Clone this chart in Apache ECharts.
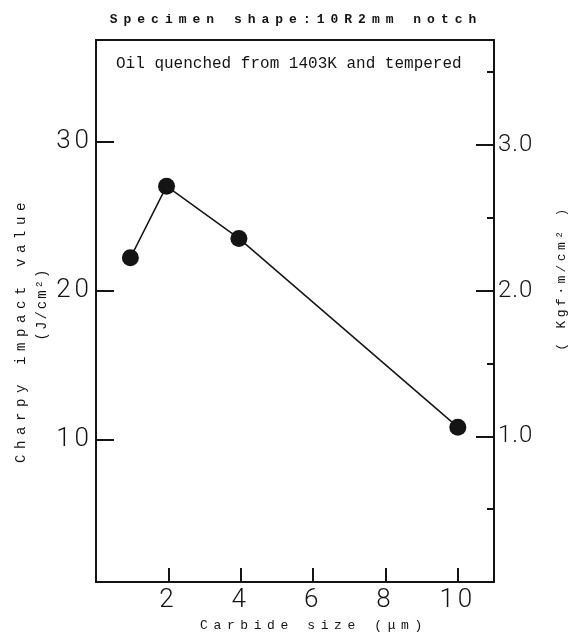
<!DOCTYPE html>
<html>
<head>
<meta charset="utf-8">
<script src="https://cdn.jsdelivr.net/npm/echarts@6/dist/echarts.min.js"></script>
<style>
html,body{margin:0;padding:0;background:#fff;}
#chart{width:575px;height:635px;}
</style>
</head>
<body>
<div id="chart"></div>
<script>
// ---- data ----
const carbideSize = [0.95, 1.95, 3.95, 10.0];          // µm
const impactValue = [22.2, 27.0, 23.5, 10.85];         // J/cm²
const xTickValues = [2, 4, 6, 8, 10];
const leftTickValues = [10, 20, 30];
const rightTickValues = [1.0, 2.0, 3.0];
const titleText = 'Specimen shape:10R2mm notch';
const subtitleText = 'Oil quenched from 1403K and tempered';
const xAxisName = 'Carbide size (μm)';
const leftAxisName1 = 'Charpy impact value';
const leftAxisName2 = '(J/cm²)';
const rightAxisName = '( Kgf·m/cm² )';

// letter spacing support for spaced typewriter text (marker family "zlsN")
(function () {
  const P = CanvasRenderingContext2D.prototype;
  const ft = P.fillText, st = P.strokeText;
  function ls(ctx) {
    const m = /zls(\d+)(?:p(\d+))?/.exec(ctx.font || '');
    const v = m ? (m[1] + (m[2] ? '.' + m[2] : '')) : '0';
    try { if ('letterSpacing' in ctx) ctx.letterSpacing = v + 'px'; } catch (e) {}
  }
  P.fillText = function (t, x, y, w) { ls(this); return w === undefined ? ft.call(this, t, x, y) : ft.call(this, t, x, y, w); };
  P.strokeText = function (t, x, y, w) { ls(this); return w === undefined ? st.call(this, t, x, y) : st.call(this, t, x, y, w); };
})();

const INK = '#141414';
const chart = echarts.init(document.getElementById('chart'), null, { renderer: 'canvas' });

const option = {
  backgroundColor: '#ffffff',
  animation: false,
  grid: { left: 96, top: 40, width: 398, height: 542, show: true, borderColor: INK, borderWidth: 2, backgroundColor: 'transparent' },
  xAxis: {
    type: 'value', min: 0, max: 11, interval: 2,
    axisLine: { show: true, lineStyle: { color: INK, width: 2 } },
    axisTick: { show: true, inside: true, length: 14, lineStyle: { color: INK, width: 2 } },
    axisLabel: {
      show: true, margin: 5, color: INK, fontSize: 26, fontWeight: 300, fontFamily: 'Roboto, zls4',
      formatter: function (v) { return xTickValues.indexOf(v) >= 0 ? String(v) : ''; }
    },
    splitLine: { show: false }
  },
  yAxis: [
    {
      type: 'value', position: 'left', min: 0.47, max: 36.8,
      axisLine: { show: true, onZero: false, lineStyle: { color: INK, width: 2 } },
      axisTick: { show: true, inside: true, length: 18, customValues: leftTickValues, lineStyle: { color: INK, width: 2 } },
      axisLabel: { show: true, margin: 3, color: INK, fontSize: 26, fontWeight: 300, fontFamily: 'Roboto, zls4', customValues: leftTickValues },
      splitLine: { show: false }
    },
    {
      type: 'value', position: 'right', min: 0, max: 3.72, interval: 1, alignTicks: false,
      axisLine: { show: true, onZero: false, lineStyle: { color: INK, width: 2 } },
      axisTick: { show: true, inside: true, length: 18, lineStyle: { color: INK, width: 2 } },
      minorTick: { show: true, splitNumber: 2, length: 7, lineStyle: { color: INK, width: 2 } },
      axisLabel: {
        show: true, margin: 4, color: INK, fontSize: 24, fontWeight: 300, fontFamily: 'Roboto, zls1',
        formatter: function (v) { return rightTickValues.indexOf(v) >= 0 ? v.toFixed(1) : ''; }
      },
      splitLine: { show: false }, minorSplitLine: { show: false }
    }
  ],
  graphic: [
    { type: 'text', x: 296, y: 20, style: { text: titleText, fill: INK, fontSize: 13, fontWeight: 'bold', fontFamily: 'Liberation Mono, zls6', align: 'center', verticalAlign: 'middle', textAlign: 'center', textVerticalAlign: 'middle' } },
    { type: 'text', x: 116, y: 64, style: { text: subtitleText, fill: INK, fontSize: 16, fontFamily: 'Liberation Mono, zls0', align: 'left', verticalAlign: 'middle', textAlign: 'left', textVerticalAlign: 'middle' } },
    { type: 'text', x: 314, y: 626, style: { text: xAxisName, fill: INK, fontSize: 13, fontFamily: 'Liberation Mono, zls5p6', align: 'center', verticalAlign: 'middle', textAlign: 'center', textVerticalAlign: 'middle' } },
    { type: 'text', x: 21, y: 330, rotation: Math.PI / 2, style: { text: leftAxisName1, fill: INK, fontSize: 14, fontFamily: 'Liberation Mono, zls5p6', align: 'center', verticalAlign: 'middle', textAlign: 'center', textVerticalAlign: 'middle' } },
    { type: 'text', x: 42, y: 304, rotation: Math.PI / 2, style: { text: leftAxisName2, fill: INK, fontSize: 14, fontFamily: 'Liberation Mono, zls2', align: 'center', verticalAlign: 'middle', textAlign: 'center', textVerticalAlign: 'middle' } },
    { type: 'text', x: 562, y: 278, rotation: Math.PI / 2, style: { text: rightAxisName, fill: INK, fontSize: 13, fontFamily: 'Liberation Mono, zls3p4', align: 'center', verticalAlign: 'middle', textAlign: 'center', textVerticalAlign: 'middle' } }
  ],
  series: [
    {
      type: 'line', yAxisIndex: 0,
      data: carbideSize.map(function (x, i) { return [x, impactValue[i]]; }),
      symbol: 'circle', symbolSize: 17,
      itemStyle: { color: INK },
      lineStyle: { color: INK, width: 1.5 },
      silent: true
    }
  ]
};
chart.setOption(option);
</script>
</body>
</html>
